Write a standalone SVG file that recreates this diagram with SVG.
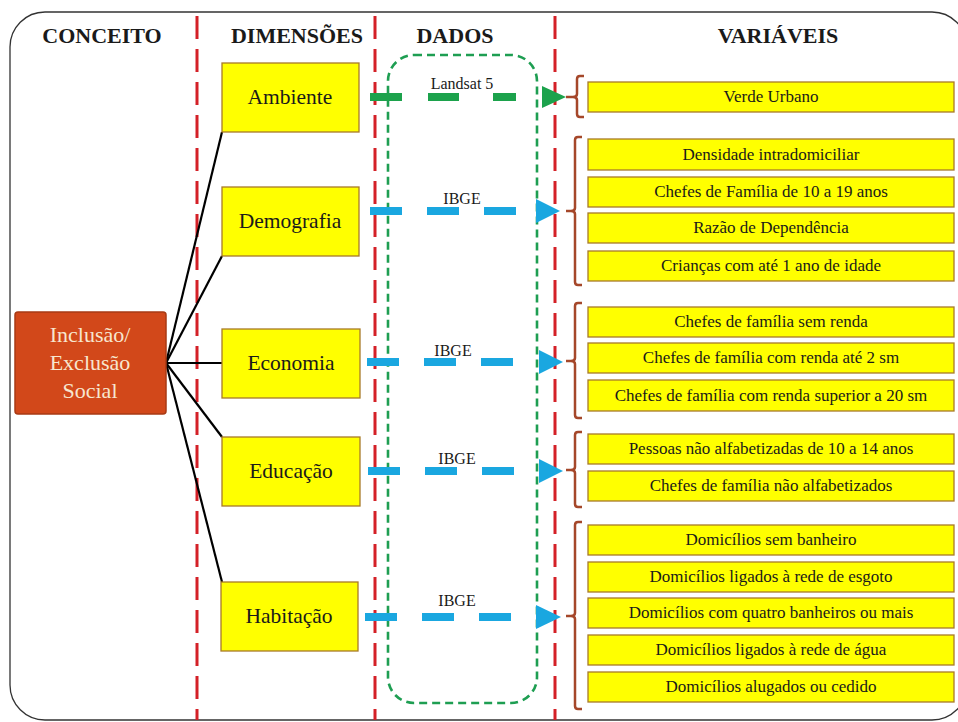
<svg xmlns="http://www.w3.org/2000/svg" width="958" height="722" viewBox="0 0 958 722">
<style>
text{font-family:"Liberation Serif","Times New Roman",serif;fill:#1a1a1a}
.hdr{font-size:22px;font-weight:bold;text-anchor:middle}
.dim rect{fill:#ffff00;stroke:#a87a28;stroke-width:1.3}
.dim text{font-size:21.5px;text-anchor:middle}
.var rect{fill:#ffff00;stroke:#a87a28;stroke-width:1.3}
.var text{font-size:17px;text-anchor:middle}
.sep{stroke:#d42027;stroke-width:3;stroke-dasharray:23 10;fill:none}
.brk{fill:none;stroke:#a5472a;stroke-width:2.5}
.spoke{stroke:#000;stroke-width:2.2;fill:none}
.blue{stroke:#1aa7e0;stroke-width:8;stroke-dasharray:32 25;fill:none}
.bhead{fill:#1aa7e0}
.lbl{font-size:16px;text-anchor:middle}
.ct{font-size:22px;text-anchor:middle;fill:#f7e6cf}
</style>
<rect x="0" y="0" width="958" height="722" fill="#ffffff"/>
<rect id="frame" x="10" y="12" width="957" height="708" rx="35" ry="35" fill="none" stroke="#333" stroke-width="1.3"/>

<g id="separators">
<line class="sep" x1="197" y1="16" x2="197" y2="720"/>
<line class="sep" x1="375" y1="16" x2="375" y2="720"/>
<line class="sep" x1="555" y1="16" x2="555" y2="720"/>
</g>

<g id="headers">
<text class="hdr" x="102" y="43">CONCEITO</text>
<text class="hdr" x="297" y="43">DIMENSÕES</text>
<text class="hdr" x="455" y="43">DADOS</text>
<text class="hdr" x="778" y="43">VARIÁVEIS</text>
</g>

<g id="dados-box">
<rect x="388" y="55" width="149" height="648" rx="26" ry="26" fill="none" stroke="#1e9e52" stroke-width="2.6" stroke-dasharray="8 5"/>
</g>

<g id="connectors">
<line class="spoke" x1="166" y1="363" x2="222" y2="132"/>
<line class="spoke" x1="166" y1="363" x2="222" y2="256"/>
<line class="spoke" x1="166" y1="363" x2="222" y2="363"/>
<line class="spoke" x1="166" y1="363" x2="222" y2="437"/>
<line class="spoke" x1="166" y1="363" x2="222" y2="582"/>
<path d="M370 97H402M428 97H459M493 97H516" stroke="#1ca24c" stroke-width="8" fill="none"/>
<polygon points="542,86 566,97 542,108" fill="#1ca24c"/>
<line class="blue" x1="370" y1="211" x2="516" y2="211"/>
<polygon class="bhead" points="536,199 560,211 536,223"/>
<line class="blue" x1="367" y1="362" x2="513" y2="362"/>
<polygon class="bhead" points="539,350 563,362 539,374"/>
<line class="blue" x1="368" y1="471" x2="514" y2="471"/>
<polygon class="bhead" points="539,459 563,471 539,483"/>
<line class="blue" x1="365" y1="617" x2="511" y2="617"/>
<polygon class="bhead" points="536,605 561,617 536,629"/>
<path class="brk" d="M584 76H580Q577 76 577 79V94Q577 97 573 97H566M573 97Q577 97 577 100V114Q577 117 580 117H584"/>
<path class="brk" d="M582 137H578Q575 137 575 140V208Q575 211 571 211H566M571 211Q575 211 575 214V282Q575 285 578 285H582"/>
<path class="brk" d="M582 303H578Q575 303 575 306V358Q575 361 571 361H566M571 361Q575 361 575 364V415Q575 418 578 418H582"/>
<path class="brk" d="M582 432H578Q575 432 575 435V467Q575 470 571 470H566M571 470Q575 470 575 473V504Q575 507 578 507H582"/>
<path class="brk" d="M582 522H578Q575 522 575 525V613Q575 616 571 616H566M571 616Q575 616 575 619V706Q575 709 578 709H582"/>
</g>

<g id="labels">
<text class="lbl" x="462" y="89">Landsat 5</text>
<text class="lbl" x="462" y="204">IBGE</text>
<text class="lbl" x="453" y="356">IBGE</text>
<text class="lbl" x="457" y="464">IBGE</text>
<text class="lbl" x="457" y="606">IBGE</text>
</g>

<g id="conceito">
<rect x="15" y="312" width="151" height="102" rx="3" fill="#d2481a" stroke="#a83a14" stroke-width="1.5"/>
<text class="ct" x="90" y="342">Inclusão/</text>
<text class="ct" x="90" y="370">Exclusão</text>
<text class="ct" x="90" y="398">Social</text>
</g>

<g id="dim-ambiente" class="dim"><rect x="222" y="63" width="137" height="69"/><text x="290" y="104">Ambiente</text></g>
<g id="dim-demografia" class="dim"><rect x="222" y="187" width="137" height="69"/><text x="290" y="228">Demografia</text></g>
<g id="dim-economia" class="dim"><rect x="222" y="329" width="138" height="69"/><text x="291" y="370">Economia</text></g>
<g id="dim-educacao" class="dim"><rect x="222" y="437" width="138" height="69"/><text x="291" y="478">Educação</text></g>
<g id="dim-habitacao" class="dim"><rect x="221" y="582" width="137" height="69"/><text x="289" y="623">Habitação</text></g>

<g id="var-verde" class="var"><rect x="588" y="82" width="366" height="30"/><text x="771" y="102">Verde Urbano</text></g>
<g id="var-densidade" class="var"><rect x="588" y="139" width="366" height="31"/><text x="771" y="160">Densidade intradomiciliar</text></g>
<g id="var-chefes-10-19" class="var"><rect x="588" y="177" width="366" height="30"/><text x="771" y="197">Chefes de Família de 10 a 19 anos</text></g>
<g id="var-razao" class="var"><rect x="588" y="213" width="366" height="30"/><text x="771" y="233">Razão de Dependência</text></g>
<g id="var-criancas" class="var"><rect x="588" y="251" width="366" height="30"/><text x="771" y="271">Crianças com até 1 ano de idade</text></g>
<g id="var-sem-renda" class="var"><rect x="588" y="307" width="366" height="30"/><text x="771" y="327">Chefes de família sem renda</text></g>
<g id="var-renda-2sm" class="var"><rect x="588" y="343" width="366" height="30"/><text x="771" y="363">Chefes de família com renda até 2 sm</text></g>
<g id="var-renda-20sm" class="var"><rect x="588" y="380" width="366" height="31"/><text x="771" y="401">Chefes de família com renda superior a 20 sm</text></g>
<g id="var-pessoas" class="var"><rect x="588" y="434" width="366" height="30"/><text x="771" y="454">Pessoas não alfabetizadas de 10 a 14 anos</text></g>
<g id="var-chefes-nao-alf" class="var"><rect x="588" y="471" width="366" height="30"/><text x="771" y="491">Chefes de família não alfabetizados</text></g>
<g id="var-sem-banheiro" class="var"><rect x="588" y="525" width="366" height="30"/><text x="771" y="545">Domicílios sem banheiro</text></g>
<g id="var-esgoto" class="var"><rect x="588" y="562" width="366" height="30"/><text x="771" y="582">Domicílios ligados à rede de esgoto</text></g>
<g id="var-quatro" class="var"><rect x="588" y="598" width="366" height="30"/><text x="771" y="618">Domicílios com quatro banheiros ou mais</text></g>
<g id="var-agua" class="var"><rect x="588" y="635" width="366" height="30"/><text x="771" y="655">Domicílios ligados à rede de água</text></g>
<g id="var-alugados" class="var"><rect x="588" y="672" width="366" height="30"/><text x="771" y="692">Domicílios alugados ou cedido</text></g>
</svg>
